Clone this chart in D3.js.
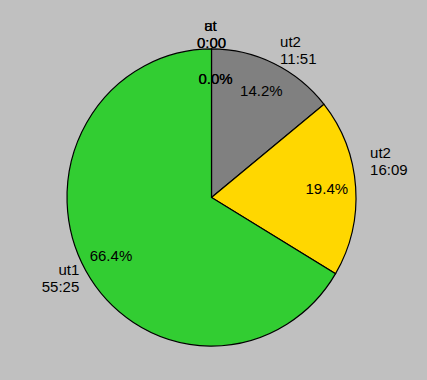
<!DOCTYPE html>
<html>
<head>
<meta charset="utf-8">
<script src="https://cdn.jsdelivr.net/npm/d3@7"></script>
<style>
  html, body { margin: 0; padding: 0; background: #c0c0c0; }
  svg { display: block; }
  text { font-family: "Liberation Sans", Arial, sans-serif; font-size: 15px; fill: #000; }
</style>
</head>
<body>
<div id="chart"></div>
<script>
// slices in drawing order, clockwise from 12 o'clock
const names = ["at", "ut", "ut2", "ut2", "ut1"];
const seconds = [0, 0, 711, 969, 3325];
const colors = ["#32cd32", "#32cd32", "#808080", "#ffd700", "#32cd32"];

const width = 427;
const height = 380;
const cx = 211.5, cy = 197.5;
const r = 144.5;
const ys = 1.028; // reference pie is a touch taller than wide

// label tweaks [dx, dy] per slice
const nudge = [[0, 0], [0, 0], [0, 0], [0, -25], [6, 0]];

const fmt = s => Math.floor(s / 60) + ":" + String(s % 60).padStart(2, "0");
const total = d3.sum(seconds);

const svg = d3.select("#chart").append("svg")
    .attr("width", width)
    .attr("height", height);

const pie = d3.pie().sort(null).value(d => d)(seconds);
const arc = d3.arc().innerRadius(0).outerRadius(r);

svg.append("g")
    .attr("transform", `translate(${cx},${cy}) scale(1,${ys})`)
  .selectAll("path")
  .data(pie)
  .enter()
  .append("path")
    .attr("d", arc)
    .attr("fill", (d, i) => colors[i])
    .attr("stroke", "#000")
    .attr("stroke-width", 1.2)
    .attr("vector-effect", "non-scaling-stroke");

const mid = d => (d.startAngle + d.endAngle) / 2;
const pt = (d, k) => [cx + Math.sin(mid(d)) * r * k, cy - Math.cos(mid(d)) * r * k * ys];

// percentages inside
svg.selectAll("text.pct")
  .data(pie)
  .enter()
  .append("text")
    .attr("class", "pct")
    .attr("x", d => pt(d, 0.8)[0] + (d.value === 0 ? 4 : 0))
    .attr("y", d => pt(d, 0.8)[1])
    .attr("dy", "0.35em")
    .attr("text-anchor", "middle")
    .text(d => (d.value / total * 100).toFixed(1) + "%");

// name + time outside
const lab = svg.selectAll("text.lab")
  .data(pie)
  .enter()
  .append("text")
    .attr("class", "lab")
    .attr("text-anchor", d => {
      const s = Math.sin(mid(d));
      return Math.abs(s) < 0.1 ? "middle" : (s > 0 ? "start" : "end");
    })
    .attr("transform", (d, i) => {
      const p = pt(d, 1.1);
      return `translate(${p[0] + nudge[i][0]},${p[1] + nudge[i][1]})`;
    });

lab.append("tspan")
    .attr("x", (d, i) => d.value === 0 ? -1 : 0)
    .attr("y", -3)
    .text((d, i) => names[i]);
lab.append("tspan")
    .attr("x", 0)
    .attr("y", 14)
    .text(d => fmt(d.value));
</script>
</body>
</html>
